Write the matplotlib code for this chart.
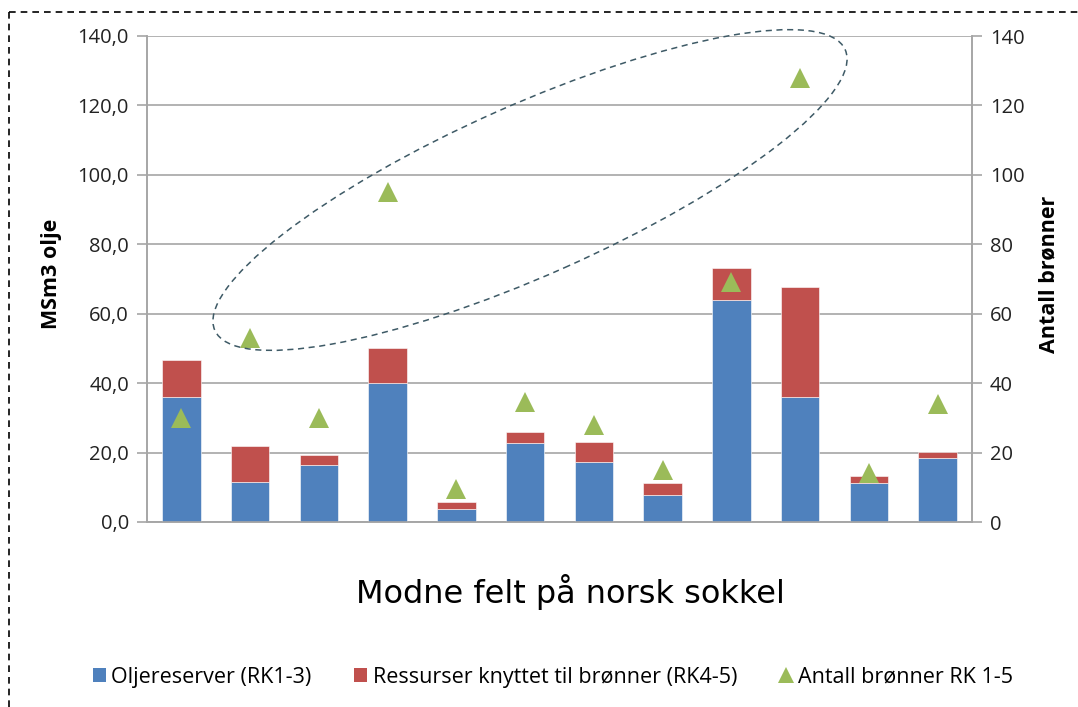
import matplotlib.pyplot as plt
import numpy as np
from matplotlib.lines import Line2D
from matplotlib.patches import Ellipse, Patch

# Values
fields = [f"Felt {i}" for i in range(1, 13)]
oil_reserves = [36.0, 11.5, 16.4, 40.0, 3.7, 22.8, 17.3, 7.8, 64.0, 36.0, 11.3, 18.4]
well_resources = [10.7, 10.4, 2.9, 10.0, 2.1, 3.2, 5.7, 3.4, 9.2, 31.7, 2.0, 1.7]
n_wells = [30, 53, 30, 95, 9.5, 34.5, 28, 15, 69, 128, 14, 34]

left_ticks = [0, 20, 40, 60, 80, 100, 120, 140]

BLUE = "#4F81BD"
RED = "#C0504D"
GREEN = "#9BBB59"
GRID = "#A6A6A6"

plt.rcParams["font.family"] = ["Open Sans", "DejaVu Sans"]

fig = plt.figure(figsize=(10.78, 7.07), dpi=100)
ax = fig.add_axes([147 / 1078, 1 - 522 / 707, (972 - 147) / 1078, (522 - 36) / 707])
ax2 = ax.twinx()

x = np.arange(len(fields))
ax.bar(x, oil_reserves, width=0.56, color=BLUE, edgecolor="white", linewidth=0.4, zorder=3)
ax.bar(x, well_resources, width=0.56, bottom=oil_reserves, color=RED,
       edgecolor="white", linewidth=0.4, zorder=3)
ax2.plot(x, n_wells, linestyle="none", marker="^", markersize=14, color=GREEN,
         markeredgewidth=0, zorder=4)

ax.set_xlim(-0.5, len(fields) - 0.5)
ax.set_ylim(0, 140)
ax2.set_ylim(0, 140)
ax.set_yticks(left_ticks)
ax.set_yticklabels([f"{v:.1f}".replace(".", ",") for v in left_ticks])
ax2.set_yticks(left_ticks)
ax2.set_yticklabels([str(v) for v in left_ticks])
ax.set_xticks([])

ax.grid(axis="y", color=GRID, linewidth=1.2, zorder=0)
ax.set_axisbelow(True)
for a in (ax, ax2):
    a.spines["top"].set_visible(False)
    for s in ("left", "right", "bottom"):
        a.spines[s].set_color(GRID)
        a.spines[s].set_linewidth(1.2)
    a.tick_params(axis="y", length=7, color=GRID, width=1.2, labelsize=14.5, pad=6,
                  labelcolor="#222222")
ax.tick_params(axis="x", length=0)

ax.set_ylabel("MSm3 olje", fontsize=15.5, fontweight="bold")
ax.yaxis.set_label_coords(-0.103, 0.51)
ax2.set_ylabel("Antall brønner", fontsize=15.5, fontweight="bold")
ax2.yaxis.set_label_coords(1.081, 0.51)

fig.text(570 / 1078, 1 - 592 / 707, "Modne felt på norsk sokkel", fontsize=23,
         family="DejaVu Sans", ha="center", va="center")

# Dashed ellipse highlighting the high well counts
ell = Ellipse((5.30, (707 - 190) / 100), width=6.9, height=1.7, angle=24,
              transform=fig.dpi_scale_trans, fill=False, edgecolor="#3E5A66",
              linestyle=(0, (4, 3)), linewidth=1.1, zorder=5)
fig.add_artist(ell)

handles = [
    Patch(facecolor=BLUE, label="Oljereserver (RK1-3)"),
    Patch(facecolor=RED, label="Ressurser knyttet til brønner (RK4-5)"),
    Line2D([], [], linestyle="none", marker="^", markersize=11, color=GREEN,
           markeredgewidth=0, label="Antall brønner RK 1-5"),
]
fig.legend(handles=handles, loc="center", bbox_to_anchor=(553 / 1078, 1 - 677 / 707),
           ncol=3, frameon=False, fontsize=15.5, handlelength=0.6, handleheight=0.6,
           handletextpad=0.25, columnspacing=2.0)

# Dashed frame around the figure (right/bottom edges are cropped in the reference)
fig.add_artist(Line2D([9 / 1078, 1], [1 - 12 / 707, 1 - 12 / 707],
                      transform=fig.transFigure, color="black", linestyle=(0, (4, 3)),
                      linewidth=1.2))
fig.add_artist(Line2D([9 / 1078, 9 / 1078], [0, 1 - 12 / 707],
                      transform=fig.transFigure, color="black", linestyle=(0, (4, 3)),
                      linewidth=1.2))

fig.savefig("out.png", dpi=100)
